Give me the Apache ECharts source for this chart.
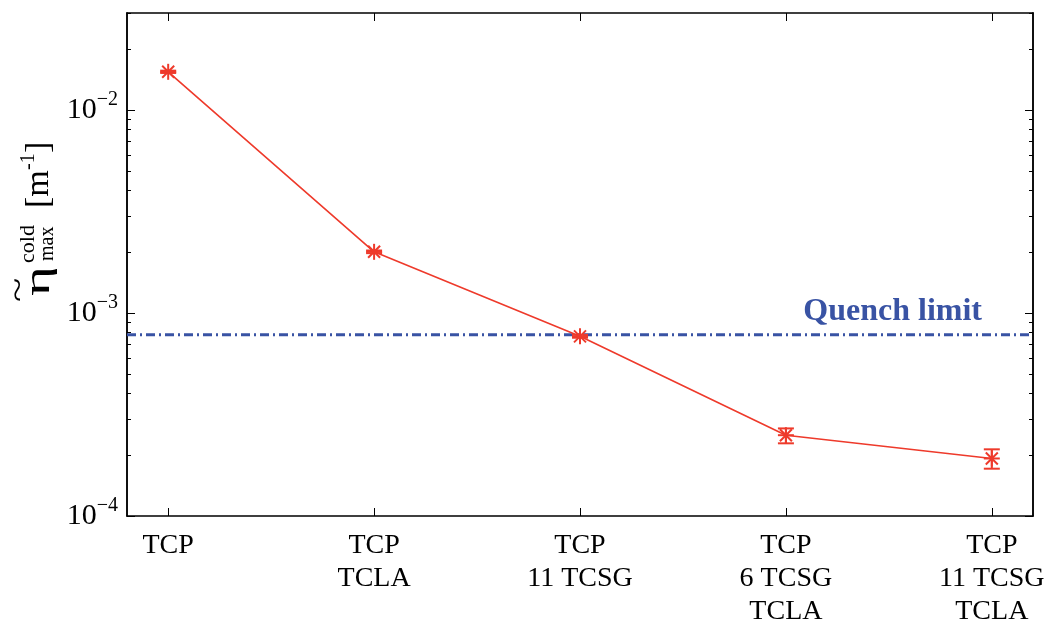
<!DOCTYPE html>
<html>
<head>
<meta charset="utf-8">
<script src="https://cdn.jsdelivr.net/npm/echarts@6/dist/echarts.min.js"></script>
<style>html,body{margin:0;padding:0;background:#fff}#c{width:1051px;height:628px}</style>
</head>
<body>
<div id="c"></div>
<script>
// ---- data ----
const categories = ['TCP', 'TCP\nTCLA', 'TCP\n11 TCSG', 'TCP\n6 TCSG\nTCLA', 'TCP\n11 TCSG\nTCLA'];
const positions = [1, 2, 3, 4, 5];
const eta = [0.0154, 0.00200, 0.000767, 0.000250, 0.000192];
const errLow = [0.0152, 0.00197, 0.000755, 0.000228, 0.000171];
const errHigh = [0.0156, 0.00203, 0.000780, 0.000270, 0.000213];
const quenchLimit = 0.00078;
const quenchLabel = 'Quench limit';
const yMajorTicks = [1e-4, 1e-3, 1e-2];
const yTickLabels = ['\u22124', '\u22123', '\u22122'];
const yMinorTicks = [2e-4, 3e-4, 4e-4, 5e-4, 6e-4, 7e-4, 8e-4, 9e-4,
                     2e-3, 3e-3, 4e-3, 5e-3, 6e-3, 7e-3, 8e-3, 9e-3,
                     2e-2, 3e-2];
const yMin = 1e-4, yMax = 0.03;
const xMin = 0.8, xMax = 5.2;

const RED = '#ee3a2b';
const BLUE = '#3953a4';
const FONT = '"Liberation Serif", "Times New Roman", serif';

const chart = echarts.init(document.getElementById('c'));

const lineData = positions.map((p, i) => [p, eta[i]]);
const errData = positions.map((p, i) => [p, eta[i], errLow[i], errHigh[i]]);
const quenchData = [
  [xMin, quenchLimit],
  [xMax, quenchLimit]
];

function yAxisDef(pos, major, withLabels) {
  return {
    type: 'log', logBase: 10, min: yMin, max: yMax, position: pos,
    axisLine: { show: true, lineStyle: { color: '#000', width: 1.5 } },
    splitLine: { show: false },
    axisTick: {
      show: true, inside: true, length: major ? 8 : 4,
      customValues: major ? yMajorTicks : yMinorTicks,
      lineStyle: { color: '#000', width: 1 }
    },
    axisLabel: withLabels ? {
      show: true, customValues: yMajorTicks, margin: 9,
      formatter: v => {
        const idx = yMajorTicks.findIndex(t => Math.abs(Math.log10(t) - Math.log10(v)) < 1e-6);
        return '{b|10}{s|' + yTickLabels[idx] + '}';
      },
      rich: {
        b: { fontFamily: FONT, fontSize: 30, color: '#000', lineHeight: 40 },
        s: { fontFamily: FONT, fontSize: 20, color: '#000', lineHeight: 20, verticalAlign: 'top' }
      }
    } : { show: false }
  };
}

function xAxisDef(pos, withLabels) {
  return {
    type: 'value', min: xMin, max: xMax, position: pos,
    axisLine: { show: true, lineStyle: { color: '#000', width: 1.5 } },
    splitLine: { show: false },
    axisTick: { show: true, inside: true, length: 8, customValues: positions, lineStyle: { color: '#000', width: 1 } },
    axisLabel: withLabels ? {
      show: true, customValues: positions, margin: 13,
      formatter: v => categories[Math.round(v) - 1],
      fontFamily: FONT, fontSize: 28, lineHeight: 33, color: '#000', verticalAlign: 'top'
    } : { show: false }
  };
}

const option = {
  backgroundColor: '#fff',
  animation: false,
  grid: { left: 127, right: 18, top: 13, bottom: 111.5, containLabel: false },
  xAxis: [xAxisDef('bottom', true), xAxisDef('top', false)],
  yAxis: [
    yAxisDef('left', true, true),
    yAxisDef('left', false, false),
    yAxisDef('right', true, false),
    yAxisDef('right', false, false)
  ],
  series: [
    {
      type: 'line', data: quenchData, symbol: 'none', xAxisIndex: 0, yAxisIndex: 0,
      lineStyle: { color: BLUE, width: 3, type: [9, 4, 2, 4] }, z: 2, silent: true,
      markPoint: {
        silent: true, symbol: 'circle', symbolSize: 1,
        itemStyle: { color: 'rgba(0,0,0,0)' },
        data: [{ coord: [xMax, quenchLimit] }],
        label: {
          show: true, position: 'top', align: 'right', distance: 7, offset: [-51, 0],
          formatter: quenchLabel,
          fontFamily: FONT, fontSize: 32, fontWeight: 'bold', color: BLUE
        }
      }
    },
    {
      type: 'line', data: lineData, symbol: 'none', xAxisIndex: 0, yAxisIndex: 0,
      lineStyle: { color: RED, width: 1.6 }, z: 3
    },
    {
      type: 'custom', data: errData, xAxisIndex: 0, yAxisIndex: 0, z: 4, clip: false,
      renderItem: function (params, api) {
        const p = api.coord([api.value(0), api.value(1)]);
        const lo = api.coord([api.value(0), api.value(2)]);
        const hi = api.coord([api.value(0), api.value(3)]);
        const style = { stroke: RED, lineWidth: 2, fill: null };
        const r = 8, d = 6, cw = 8;
        const seg = (x1, y1, x2, y2) => ({ type: 'line', shape: { x1, y1, x2, y2 }, style });
        return {
          type: 'group',
          children: [
            seg(lo[0], lo[1], hi[0], hi[1]),
            seg(lo[0] - cw, lo[1], lo[0] + cw, lo[1]),
            seg(hi[0] - cw, hi[1], hi[0] + cw, hi[1]),
            seg(p[0] - r, p[1], p[0] + r, p[1]),
            seg(p[0], p[1] - r, p[0], p[1] + r),
            seg(p[0] - d, p[1] - d, p[0] + d, p[1] + d),
            seg(p[0] - d, p[1] + d, p[0] + d, p[1] - d)
          ]
        };
      }
    }
  ],
  graphic: [
    { type: 'text', x: 40, y: 281, rotation: Math.PI / 2, scaleX: 1.3, scaleY: 0.8,
      style: { text: '\u03b7', fontFamily: FONT, fontSize: 44, fill: '#000', align: 'center', verticalAlign: 'middle' } },
    { type: 'text', x: 20, y: 290, rotation: Math.PI / 2, scaleX: 1.4,
      style: { text: '~', fontFamily: FONT, fontSize: 32, fill: '#000', align: 'center', verticalAlign: 'middle' } },
    { type: 'text', x: 28, y: 263, rotation: Math.PI / 2,
      style: { text: 'cold', fontFamily: FONT, fontSize: 22, fill: '#000', align: 'left', verticalAlign: 'middle' } },
    { type: 'text', x: 48, y: 261, rotation: Math.PI / 2,
      style: { text: 'max', fontFamily: FONT, fontSize: 20, fill: '#000', align: 'left', verticalAlign: 'middle' } },
    { type: 'text', x: 39, y: 208, rotation: Math.PI / 2,
      style: { text: '[m', fontFamily: FONT, fontSize: 34, fill: '#000', align: 'left', verticalAlign: 'middle' } },
    { type: 'text', x: 29, y: 170, rotation: Math.PI / 2,
      style: { text: '-1', fontFamily: FONT, fontSize: 20, fill: '#000', align: 'left', verticalAlign: 'middle' } },
    { type: 'text', x: 39, y: 153, rotation: Math.PI / 2,
      style: { text: ']', fontFamily: FONT, fontSize: 34, fill: '#000', align: 'left', verticalAlign: 'middle' } }
  ]
};

chart.setOption(option);
</script>
</body>
</html>
